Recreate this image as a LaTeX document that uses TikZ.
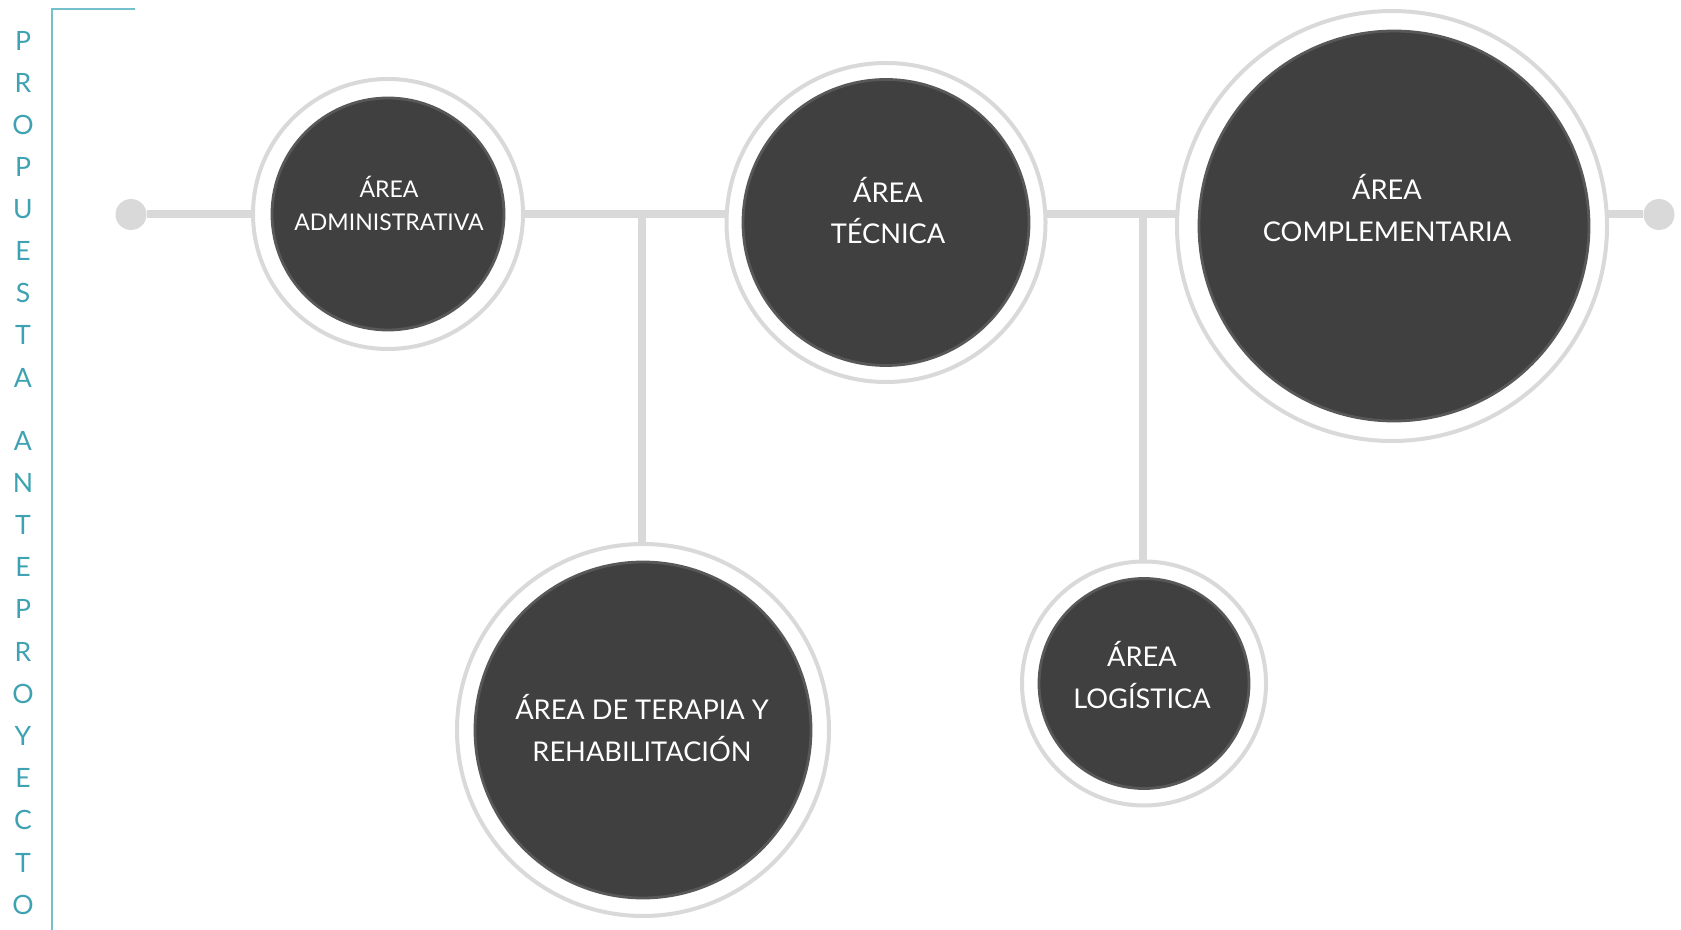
\documentclass[tikz,border=0pt]{standalone}
\usepackage{fontspec}
\setmainfont{Lato}
\usetikzlibrary{backgrounds}
\definecolor{AreaDark}{HTML}{404040}
\definecolor{AreaEdge}{HTML}{585858}
\definecolor{AreaRing}{HTML}{D9D9D9}
\definecolor{PropTeal}{HTML}{3FA2B2}
\definecolor{PropFrame}{HTML}{74C1CC}

\begin{document}
\begin{tikzpicture}[
  x=0.5pt, y=-0.5pt,
  arearing/.style={circle, fill=white, draw=AreaRing, line width=2pt, inner sep=0pt},
  areaball/.style={circle, fill=AreaDark, draw=AreaEdge, line width=1.4pt, inner sep=0pt},
  arealabel/.style={text=white, align=center, inner sep=0pt, font=\fontsize{13.6}{20.8}\selectfont},
  enddot/.style={circle, fill=AreaRing, inner sep=0pt, minimum size=15.5pt},
  trunk/.style={draw=AreaRing, line width=4pt},
  vletter/.style={text=PropTeal, inner sep=0pt, font=\fontsize{13.3}{16}\selectfont}
]
\useasboundingbox (0,0) rectangle (1681,930);

% side title
\draw[PropFrame, line width=1pt] (135,8.7) -- (51.7,8.7) -- (51.7,930);
\foreach \ch [count=\i] in {P,R,O,P,U,E,S,T,A}
  \node[vletter] (tA\i) at (23,{40.7+42.1*(\i-1)}) {\ch};
\foreach \ch [count=\i] in {A,N,T,E,P,R,O,Y,E,C,T,O}
  \node[vletter] (tB\i) at (23,{440.6+42.2*(\i-1)}) {\ch};

% end dots and forks on the trunk
\node[enddot] (dotL) at (131,214.5) {};
\node[enddot] (dotR) at (1659,214.5) {};
\coordinate (forkT) at (642,214.5);
\coordinate (forkL) at (1143,214.5);

% areas
\node[arearing, minimum size=135pt] (admR) at (388,214) {};
\node[areaball, minimum size=116pt] (adm) at (388,214) {};
\node[arearing, minimum size=159.5pt] (tecR) at (886,222.5) {};
\node[areaball, minimum size=143pt] (tec) at (886,222.5) {};
\node[arearing, minimum size=215pt] (comR) at (1392,226) {};
\node[areaball, minimum size=195pt] (com) at (1394,226) {};
\node[arearing, minimum size=186pt] (terR) at (643,730) {};
\node[areaball, minimum size=168pt] (ter) at (643,730) {};
\node[arearing, minimum size=122pt] (logR) at (1144,683.5) {};
\node[areaball, minimum size=105pt] (log) at (1144,683.5) {};

\node[arealabel, font=\fontsize{11.5}{16.2}\selectfont] (admT) at (389,203.5) {ÁREA\\ADMINISTRATIVA};
\node[arealabel] (tecT) at (888,210.5) {ÁREA\\TÉCNICA};
\node[arealabel] (comT) at (1387,208) {ÁREA\\COMPLEMENTARIA};
\node[arealabel] (terT) at (642,728) {ÁREA DE TERAPIA Y\\REHABILITACIÓN};
\node[arealabel] (logT) at (1142,675) {ÁREA\\LOGÍSTICA};

% connectors
\begin{scope}[on background layer]
\draw[trunk] (dotL) -- (dotR);
\draw[trunk] (forkT) -- (forkT |- terR.north);
\draw[trunk] (forkL) -- (forkL |- logR.north);
\end{scope}
\end{tikzpicture}
\end{document}
